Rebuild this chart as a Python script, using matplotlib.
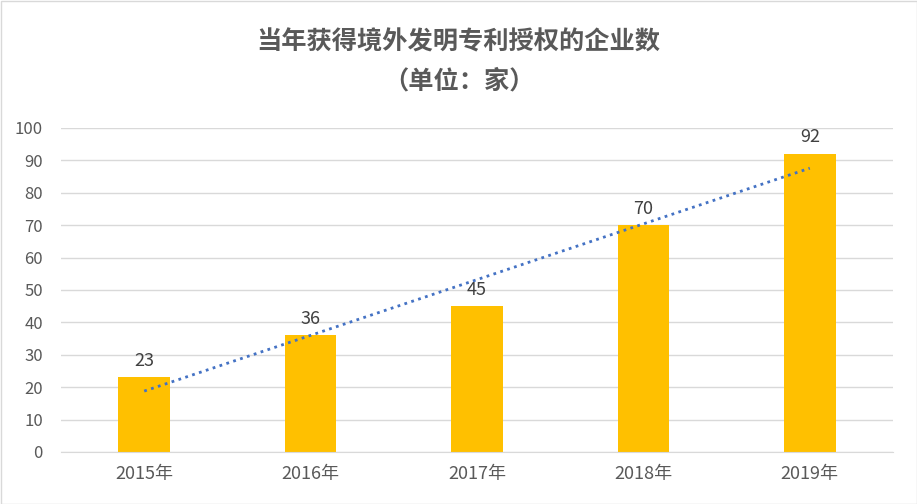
import matplotlib
matplotlib.use("Agg")
import matplotlib.pyplot as plt
import numpy as np

plt.rcParams['font.family'] = ['Noto Sans CJK SC', 'DejaVu Sans']

categories = ["2015年", "2016年", "2017年", "2018年", "2019年"]
values = [23, 36, 45, 70, 92]
yticks = [0, 10, 20, 30, 40, 50, 60, 70, 80, 90, 100]
title_line1 = "当年获得境外发明专利授权的企业数"
title_line2 = "（单位：家）"

W, H = 917, 504
fig = plt.figure(figsize=(W/100, H/100), dpi=100)
ax = fig.add_axes([61/W, 1-452/H, (893-61)/W, (452-128)/H])

x = np.arange(len(categories))
ax.bar(x, values, width=0.31, color="#FFC000", zorder=2)

coef = np.polyfit(x, values, 1)
ax.plot(x, np.polyval(coef, x), linestyle=(0, (1, 1.6)), color="#4472C4",
        linewidth=2.0, zorder=3)

for xi, v in zip(x, values):
    ax.text(xi, v + 2.3, str(v), ha="center", va="bottom", fontsize=13,
            color="#404040", zorder=4)

ax.set_xlim(-0.5, len(categories) - 0.5)
ax.set_ylim(0, 100)
ax.set_yticks(yticks)
ax.set_xticks(x)
ax.set_xticklabels(categories)
ax.grid(axis="y", color="#D9D9D9", linewidth=1.0, zorder=0)
ax.set_axisbelow(True)
for s in ["top", "right", "left"]:
    ax.spines[s].set_visible(False)
ax.spines["bottom"].set_color("#D9D9D9")
ax.tick_params(axis="both", length=0, colors="#595959")
ax.tick_params(axis="x", pad=9, labelsize=13)
ax.tick_params(axis="y", pad=13, labelsize=12)

fig.text(0.5, 1-42/H, title_line1, ha="center", va="center", fontsize=18.2,
         fontweight="bold", color="#595959")
fig.text(0.5, 1-81/H, title_line2, ha="center", va="center", fontsize=18.2,
         fontweight="bold", color="#595959")

border = plt.Rectangle((0.5/W, 0.5/H), 1-1/W, 1-1/H, transform=fig.transFigure,
                       fill=False, edgecolor="#D9D9D9", linewidth=1.0)
fig.patches.append(border)

fig.savefig("out.png", dpi=100, facecolor="white")
